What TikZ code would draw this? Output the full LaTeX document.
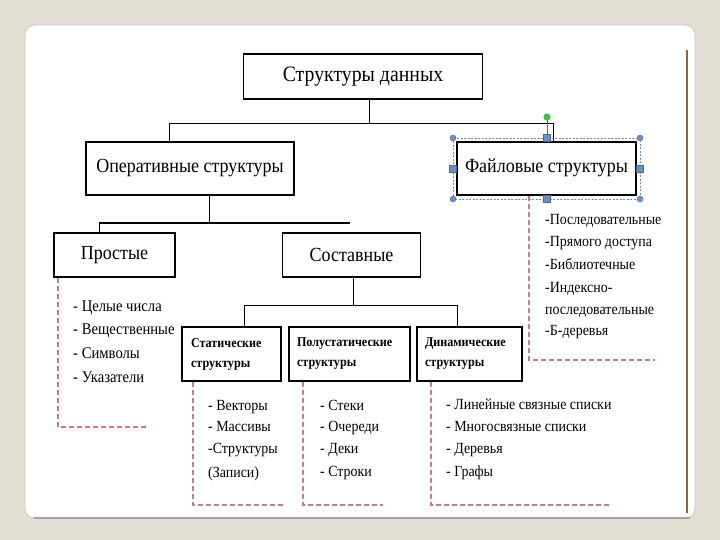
\documentclass[tikz,border=0pt]{standalone}
\usepackage{fontspec}
\setmainfont{Liberation Serif}[FakeStretch=0.9]
\definecolor{bgc}{HTML}{E3DED4}
\definecolor{dashc}{HTML}{C27E86}
\definecolor{handc}{HTML}{6E8EC2}
\definecolor{handd}{HTML}{4A6A9E}
\definecolor{greenc}{HTML}{44C044}
\definecolor{brownc}{HTML}{8A6A3C}
\begin{document}
\begin{tikzpicture}[x=1pt,y=-1pt,
  box/.style={draw=black, line width=1.8pt, fill=white, inner sep=0pt},
  conn/.style={draw=black, line width=0.9pt},
  thickconn/.style={draw=black, line width=2.2pt},
  dashline/.style={draw=dashc, line width=1.1pt, dash pattern=on 5pt off 3pt},
  item/.style={anchor=base west, inner sep=0pt, font=\fontsize{15.5}{18}\selectfont},
  bigitem/.style={item, font=\fontsize{16.3}{18}\selectfont},
  subbox/.style={box, align=left, font=\bfseries\fontsize{13.5}{20}\selectfont, minimum height=54pt},
  handle/.style={fill=handc, draw=handd, line width=0.4pt}
]
\useasboundingbox (0,0) rectangle (720,540);
% background and panel
\fill[bgc] (0,0) rectangle (720,540);
\draw[fill=white, draw=gray!45, line width=0.8pt, rounded corners=9pt] (25,25) rectangle (695,518);
\draw[gray!70, line width=1.2pt] (34,518) -- (690,518);
\draw[brownc, line width=1.6pt] (687,50) -- (687,513);

% boxes
\node[box, minimum width=239pt, minimum height=45pt, font=\fontsize{22}{26}\selectfont] (top) at (363,76.5) {\raisebox{1pt}{Структуры данных}};
\node[box, minimum width=208pt, minimum height=53pt, font=\fontsize{20}{24}\selectfont] (oper) at (190,168.5) {\raisebox{5pt}{Оперативные структуры}};
\node[box, minimum width=179pt, minimum height=53pt, font=\fontsize{20}{24}\selectfont] (file) at (546.5,168.5) {\raisebox{5pt}{Файловые структуры}};
\node[box, minimum width=121pt, minimum height=44pt, font=\fontsize{20}{24}\selectfont] (simple) at (114.5,255) {Простые};
\node[box, minimum width=138pt, minimum height=44pt, font=\fontsize{20}{24}\selectfont] (comp) at (351.5,255) {Составные};
\node[subbox, minimum width=99pt, text width=81pt] (stat) at (231.5,354) {\raisebox{-3pt}{Статические}\\\raisebox{-3pt}{структуры}};
\node[subbox, minimum width=121pt, text width=105pt] (semi) at (349.5,354) {\raisebox{-3pt}{Полустатические}\\\raisebox{-3pt}{структуры}};
\node[subbox, minimum width=105pt, text width=89pt] (dyn) at (469.5,354) {\raisebox{-3pt}{Динамические}\\\raisebox{-3pt}{структуры}};

% connectors level 1
\coordinate (j1) at (369,123);
\coordinate (j1L) at (169,123);
\coordinate (j1R) at (553,123);
\draw[conn] (top.south -| j1) -- (j1);
\draw[conn] (j1L) -- (j1R);
\draw[conn] (j1L) -- (j1L |- oper.north);
\draw[conn] (j1R) -- (j1R |- file.north);

% selection handles on file box
\draw[handc, line width=0.6pt, dash pattern=on 2pt off 1.5pt] (453,138) rectangle (640,199);
\coordinate (g) at (547,117);
\draw[handd, line width=0.6pt] (g) -- (547,138);
\fill[greenc] (g) circle (3.6pt);
\foreach \px/\py [count=\k] in {453/138, 640/138, 453/199, 640/199}
  \draw[handle] (\px,\py) circle (3pt);
\foreach \px/\py [count=\k] in {547/138, 547/199, 453/168.5, 640/168.5}
  \draw[handle] (\px-3.5,\py-3.5) rectangle (\px+3.5,\py+3.5);

% connectors level 2
\coordinate (j2) at (209,223);
\coordinate (j2L) at (99,223);
\coordinate (j2R) at (350,223);
\draw[conn] (oper.south -| j2) -- (j2);
\draw[thickconn] (j2L) -- (j2R);
\draw[conn] (j2L) -- (j2L |- simple.north);

% connectors level 3
\coordinate (j3) at (353,305);
\coordinate (j3L) at (244,305);
\coordinate (j3R) at (457,305);
\draw[conn] (comp.south -| j3) -- (j3);
\draw[conn] (j3L) -- (j3R);
\draw[conn] (j3L) -- (j3L |- stat.north);
\draw[conn] (j3R) -- (j3R |- dyn.north);

% dashed brackets
\coordinate (d1) at (58,427);
\draw[dashline] (simple.south -| d1) -- (d1) -- (148,427);
\coordinate (d2) at (193,505);
\draw[dashline] (stat.south -| d2) -- (d2) -- (285,505);
\coordinate (d3) at (303,505);
\draw[dashline] (semi.south -| d3) -- (d3) -- (383,505);
\coordinate (d4) at (431,505);
\draw[dashline] (dyn.south -| d4) -- (d4) -- (610,505);
\coordinate (d5) at (529,360);
\draw[dashline] (file.south -| d5) -- (d5) -- (655,360);

% lists
\node[bigitem] (s1) at (73,311) {- Целые числа};
\node[bigitem] (s2) at (73,334) {- Вещественные};
\node[bigitem] (s3) at (73,358) {- Символы};
\node[bigitem] (s4) at (73,382) {- Указатели};

\node[item] (t1) at (208,410) {- Векторы};
\node[item] (t2) at (208,431) {- Массивы};
\node[item] (t3) at (208,453) {-Структуры};
\node[item] (t4) at (208,477) {(Записи)};

\node[item] (u1) at (320,410) {- Стеки};
\node[item] (u2) at (320,431) {- Очереди};
\node[item] (u3) at (320,453) {- Деки};
\node[item] (u4) at (320,476) {- Строки};

\node[item] (v1) at (446,409) {- Линейные связные списки};
\node[item] (v2) at (446,431) {- Многосвязные списки};
\node[item] (v3) at (446,453) {- Деревья};
\node[item] (v4) at (446,476) {- Графы};

\node[item] (f1) at (545,225) {-Последовательные};
\node[item] (f2) at (545,247) {-Прямого доступа};
\node[item] (f3) at (545,269) {-Библиотечные};
\node[item] (f4) at (545,292) {-Индексно-};
\node[item] (f5) at (545,314) {последовательные};
\node[item] (f6) at (545,335) {-Б-деревья};
\end{tikzpicture}
\end{document}
